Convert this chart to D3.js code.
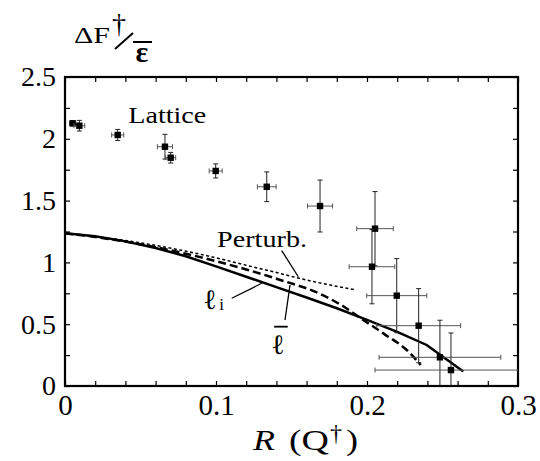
<!DOCTYPE html>
<html>
<head>
<meta charset="utf-8">
<script src="https://cdn.jsdelivr.net/npm/d3@7"></script>
<style>
  body { margin: 0; background: #fff; }
  svg { display: block; }
  text { font-family: "Liberation Serif", "Times New Roman", serif; fill: #000; }
</style>
</head>
<body>
<svg id="chart"></svg>
<script>
const width = 540;
const height = 461;
const plotLeft = 65, plotRight = 518, plotTop = 77, plotBottom = 386;
const serif = '"Liberation Serif", "Times New Roman", serif';

// lattice points: R, dF/eps, and their errors
const rLat = [0.0051, 0.0095, 0.0349, 0.0662, 0.070, 0.0998, 0.1336, 0.1689, 0.2053, 0.2033, 0.2197, 0.2342, 0.2483, 0.2556];
const fLat = [2.125, 2.106, 2.031, 1.936, 1.847, 1.74, 1.612, 1.456, 1.273, 0.965, 0.731, 0.488, 0.232, 0.129];
const rErr = [0.002, 0.0036, 0.004, 0.005, 0.0033, 0.0043, 0.0062, 0.0083, 0.0121, 0.0151, 0.0199, 0.0278, 0.0403, 0.0503];
const fErr = [0.02, 0.043, 0.045, 0.10, 0.043, 0.057, 0.12, 0.21, 0.30, 0.30, 0.30, 0.30, 0.30, 0.30];

// l_i curve (solid)
const rSolid = [0, 0.02, 0.04, 0.06, 0.08, 0.1, 0.12, 0.14, 0.16, 0.18, 0.2, 0.22, 0.2395, 0.2638];
const fSolid = [1.235, 1.212, 1.17, 1.116, 1.05, 0.968, 0.884, 0.8, 0.716, 0.629, 0.535, 0.438, 0.332, 0.118];

// l-bar curve (dashed)
const rBar = [0, 0.02, 0.04, 0.06, 0.08, 0.1, 0.12, 0.14, 0.1689, 0.1843, 0.1954, 0.2108, 0.2263, 0.2356];
const fBar = [1.235, 1.206, 1.168, 1.123, 1.07, 1.01, 0.943, 0.868, 0.745, 0.645, 0.552, 0.426, 0.291, 0.17];

// perturbative curve (dotted)
const rPert = [0, 0.04, 0.0762, 0.1, 0.12, 0.142, 0.1556, 0.1927];
const fPert = [1.235, 1.177, 1.1, 1.037, 0.977, 0.912, 0.87, 0.777];

const xTicks = [0, 0.1, 0.2, 0.3];
const yTicks = [0, 0.5, 1, 1.5, 2, 2.5];
const xMinor = d3.range(0, 16).map(i => i * 0.02);
const yMinor = d3.range(0, 11).map(i => i * 0.25);

const svg = d3.select('#chart').attr('width', width).attr('height', height);
svg.append('rect').attr('width', width).attr('height', height).attr('fill', '#fff');

const x = d3.scaleLinear().domain([0, 0.3]).range([plotLeft, plotRight]);
const y = d3.scaleLinear().domain([0, 2.5]).range([plotBottom, plotTop]);

// inward minor ticks on all four sides
function ticksOnly(axis) {
  return g => g.call(axis.tickFormat('').tickSizeOuter(0))
    .call(g => g.select('.domain').remove())
    .call(g => g.selectAll('line').attr('stroke', '#000').attr('stroke-width', 1.2));
}
svg.append('g').attr('transform', `translate(0,${plotBottom})`).call(ticksOnly(d3.axisBottom(x).tickValues(xMinor).tickSize(-5)));
svg.append('g').attr('transform', `translate(0,${plotTop})`).call(ticksOnly(d3.axisTop(x).tickValues(xMinor).tickSize(-5)));
svg.append('g').attr('transform', `translate(${plotLeft},0)`).call(ticksOnly(d3.axisLeft(y).tickValues(yMinor).tickSize(-5)));
svg.append('g').attr('transform', `translate(${plotRight},0)`).call(ticksOnly(d3.axisRight(y).tickValues(yMinor).tickSize(-5)));

// tick labels
const xLab = svg.append('g').attr('transform', `translate(0,${plotBottom})`)
  .call(d3.axisBottom(x).tickValues(xTicks).tickSize(0).tickPadding(8).tickFormat(d => String(d)))
  .attr('font-family', serif).attr('font-size', 29);
xLab.select('.domain').remove();
xLab.selectAll('text').style('font-family', serif).style('font-size', '29px');

const yLab = svg.append('g').attr('transform', `translate(${plotLeft},0)`)
  .call(d3.axisLeft(y).tickValues(yTicks).tickSize(0).tickPadding(9).tickFormat(d => String(d)))
  .attr('font-family', serif).attr('font-size', 28);
yLab.select('.domain').remove();
yLab.selectAll('text').style('font-family', serif).style('font-size', '28px');

// frame
svg.append('rect')
  .attr('x', plotLeft).attr('y', plotTop)
  .attr('width', plotRight - plotLeft).attr('height', plotBottom - plotTop)
  .attr('fill', 'none').attr('stroke', '#000').attr('stroke-width', 2.2);

svg.append('clipPath').attr('id', 'plot-clip')
  .append('rect').attr('x', plotLeft).attr('y', plotTop).attr('width', plotRight - plotLeft).attr('height', plotBottom - plotTop);

const plot = svg.append('g').attr('clip-path', 'url(#plot-clip)');

// curves
const line = d3.line().x(d => x(d[0])).y(d => y(d[1])).curve(d3.curveMonotoneX);
plot.append('path').datum(rPert.map((r, i) => [r, fPert[i]]))
  .attr('d', line).attr('fill', 'none').attr('stroke', '#000')
  .attr('stroke-width', 1.5).attr('stroke-dasharray', '3,2.5');
plot.append('path').datum(rBar.map((r, i) => [r, fBar[i]]))
  .attr('d', line).attr('fill', 'none').attr('stroke', '#000')
  .attr('stroke-width', 2.5).attr('stroke-dasharray', '8,4');
plot.append('path').datum(rSolid.map((r, i) => [r, fSolid[i]]))
  .attr('d', line.curve(d3.curveLinear)).attr('fill', 'none').attr('stroke', '#000')
  .attr('stroke-width', 2.5);

// lattice error bars
const lat = rLat.map((r, i) => ({ r: r, f: fLat[i], dr: rErr[i], df: fErr[i] }));
const cap = 2.5;
const eb = plot.selectAll('g.pt').data(lat).enter().append('g').attr('class', 'pt');
eb.append('line')
  .attr('x1', d => x(d.r - d.dr)).attr('x2', d => x(d.r + d.dr))
  .attr('y1', d => y(d.f)).attr('y2', d => y(d.f))
  .attr('stroke', '#555').attr('stroke-width', 1);
eb.append('line')
  .attr('x1', d => x(d.r)).attr('x2', d => x(d.r))
  .attr('y1', d => y(d.f - d.df)).attr('y2', d => y(d.f + d.df))
  .attr('stroke', '#222').attr('stroke-width', 1);
[-1, 1].forEach(s => {
  eb.append('line')
    .attr('x1', d => x(d.r + s * d.dr)).attr('x2', d => x(d.r + s * d.dr))
    .attr('y1', d => y(d.f) - cap).attr('y2', d => y(d.f) + cap)
    .attr('stroke', '#555').attr('stroke-width', 1);
  eb.append('line')
    .attr('x1', d => x(d.r) - cap).attr('x2', d => x(d.r) + cap)
    .attr('y1', d => y(d.f + s * d.df)).attr('y2', d => y(d.f + s * d.df))
    .attr('stroke', '#222').attr('stroke-width', 1);
});
eb.append('rect')
  .attr('x', d => x(d.r) - 3.2).attr('y', d => y(d.f) - 3.2)
  .attr('width', 6.4).attr('height', 6.4).attr('fill', '#000');

// annotations
svg.append('text').attr('x', x(0.0419)).attr('y', y(2.125))
  .style('font-size', '23px').attr('textLength', 78).attr('lengthAdjust', 'spacingAndGlyphs')
  .text('Lattice');

svg.append('text').attr('x', x(0.1007)).attr('y', y(1.127))
  .style('font-size', '23px').attr('textLength', 90).attr('lengthAdjust', 'spacingAndGlyphs')
  .text('Perturb.');

const leaders = [
  [[0.1435, 1.096], [0.1545, 0.884]],
  [[0.1104, 0.71], [0.1303, 0.831]],
  [[0.1457, 0.534], [0.149, 0.817]]
];
leaders.forEach(l => {
  svg.append('line')
    .attr('x1', x(l[0][0])).attr('y1', y(l[0][1]))
    .attr('x2', x(l[1][0])).attr('y2', y(l[1][1]))
    .attr('stroke', '#000').attr('stroke-width', 1.3);
});

// l_i
svg.append('text').attr('x', x(0.0925)).attr('y', y(0.62))
  .style('font-family', '"DejaVu Serif", serif').style('font-size', '28px').style('font-weight', 'bold')
  .text('ℓ');
svg.append('text').attr('x', x(0.1022)).attr('y', y(0.612))
  .style('font-size', '17px').text('i');

// l-bar
svg.append('text').attr('x', x(0.1375)).attr('y', y(0.255))
  .style('font-family', '"DejaVu Serif", serif').style('font-size', '28px').style('font-weight', 'bold')
  .text('ℓ');
svg.append('line')
  .attr('x1', x(0.1385)).attr('x2', x(0.1475))
  .attr('y1', y(0.48)).attr('y2', y(0.48))
  .attr('stroke', '#000').attr('stroke-width', 1.8);

// axis titles
svg.append('text').attr('x', 253).attr('y', 450)
  .style('font-size', '29px').style('font-style', 'italic')
  .attr('textLength', 22).attr('lengthAdjust', 'spacingAndGlyphs').text('R');
svg.append('text').attr('x', 289).attr('y', 450)
  .style('font-size', '29px')
  .attr('textLength', 40).attr('lengthAdjust', 'spacingAndGlyphs').text('(Q');
svg.append('text').attr('x', 330).attr('y', 441)
  .style('font-size', '24px').text('†');
svg.append('text').attr('x', 346).attr('y', 450)
  .style('font-size', '29px')
  .attr('textLength', 12).attr('lengthAdjust', 'spacingAndGlyphs').text(')');

svg.append('text').attr('x', 74).attr('y', 43)
  .style('font-size', '24px').attr('textLength', 36).attr('lengthAdjust', 'spacingAndGlyphs')
  .text('ΔF');
svg.append('text').attr('x', 112).attr('y', 33)
  .style('font-size', '28px').text('†');
svg.append('line').attr('x1', 115).attr('y1', 49).attr('x2', 133).attr('y2', 33)
  .attr('stroke', '#000').attr('stroke-width', 2);
svg.append('line').attr('x1', 133).attr('y1', 42).attr('x2', 152).attr('y2', 42)
  .attr('stroke', '#000').attr('stroke-width', 2);
svg.append('text').attr('x', 142).attr('y', 62).attr('text-anchor', 'middle')
  .style('font-size', '30px').style('font-weight', 'bold').text('ε');
</script>
</body>
</html>
